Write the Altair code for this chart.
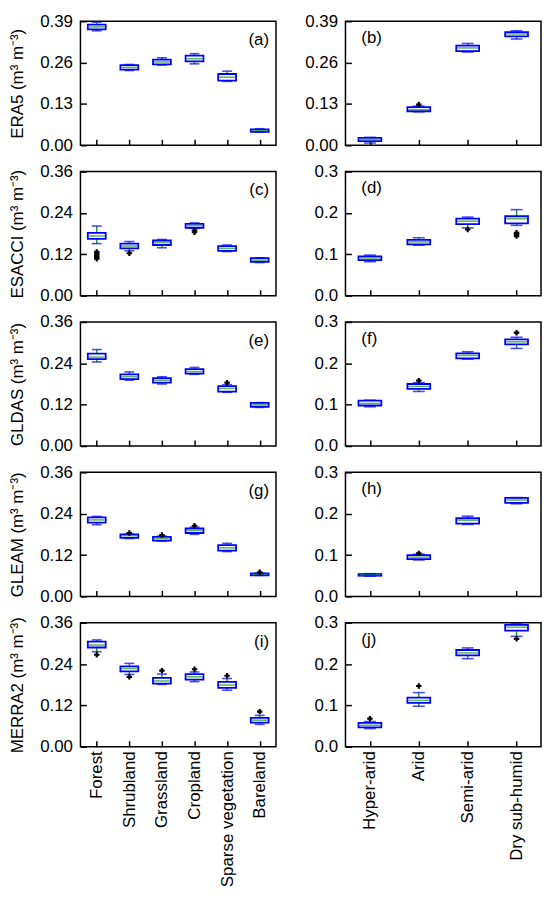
import altair as alt
import pandas as pd

landcover = ["Forest", "Shrubland", "Grassland", "Cropland", "Sparse vegetation", "Bareland"]
aridity = ["Hyper-arid", "Arid", "Semi-arid", "Dry sub-humid"]
products = ["ERA5", "ESACCI", "GLDAS", "GLEAM", "MERRA2"]

# (lower whisker, Q1, median, Q3, upper whisker) for each class
era5_lc = [(0.360, 0.364, 0.372, 0.379, 0.387), (0.235, 0.238, 0.245, 0.252, 0.254),
           (0.252, 0.254, 0.262, 0.269, 0.275), (0.256, 0.264, 0.272, 0.282, 0.288),
           (0.201, 0.203, 0.214, 0.224, 0.233), (0.041, 0.042, 0.046, 0.050, 0.052)]
era5_lc_out = [[], [], [], [], [], []]
era5_ar = [(0.007, 0.013, 0.018, 0.023, 0.025), (0.105, 0.107, 0.112, 0.120, 0.123),
           (0.293, 0.296, 0.306, 0.313, 0.320), (0.334, 0.342, 0.350, 0.356, 0.360)]
era5_ar_out = [[], [0.128], [], []]

esacci_lc = [(0.151, 0.165, 0.173, 0.182, 0.202), (0.130, 0.137, 0.144, 0.151, 0.157),
             (0.139, 0.147, 0.154, 0.160, 0.163), (0.195, 0.197, 0.204, 0.208, 0.211),
             (0.128, 0.130, 0.137, 0.144, 0.147), (0.096, 0.098, 0.103, 0.109, 0.110)]
esacci_lc_out = [[0.127, 0.122, 0.117, 0.112, 0.107], [0.123], [], [0.189, 0.184], [], []]
esacci_ar = [(0.082, 0.086, 0.091, 0.095, 0.098), (0.122, 0.124, 0.130, 0.135, 0.140),
             (0.164, 0.173, 0.180, 0.186, 0.190), (0.170, 0.175, 0.186, 0.192, 0.208)]
esacci_ar_out = [[], [], [0.160], [0.152, 0.148, 0.144]]

gldas_lc = [(0.244, 0.252, 0.258, 0.268, 0.280), (0.191, 0.194, 0.201, 0.208, 0.215),
            (0.180, 0.184, 0.191, 0.197, 0.201), (0.208, 0.210, 0.216, 0.223, 0.228),
            (0.156, 0.158, 0.167, 0.174, 0.178), (0.112, 0.114, 0.120, 0.125, 0.126)]
gldas_lc_out = [[], [], [], [], [0.184], []]
gldas_ar = [(0.095, 0.098, 0.103, 0.110, 0.111), (0.132, 0.138, 0.144, 0.150, 0.153),
            (0.210, 0.212, 0.219, 0.224, 0.228), (0.236, 0.246, 0.252, 0.258, 0.263)]
gldas_ar_out = [[], [0.158], [], [0.274]]

gleam_lc = [(0.208, 0.214, 0.222, 0.229, 0.232), (0.168, 0.170, 0.176, 0.180, 0.181),
            (0.160, 0.162, 0.168, 0.173, 0.175), (0.180, 0.184, 0.191, 0.197, 0.201),
            (0.130, 0.133, 0.141, 0.149, 0.154), (0.061, 0.061, 0.064, 0.067, 0.068)]
gleam_lc_out = [[], [0.184], [0.178], [0.205], [], [0.070]]
gleam_ar = [(0.049, 0.050, 0.052, 0.054, 0.055), (0.088, 0.090, 0.095, 0.100, 0.102),
            (0.174, 0.176, 0.184, 0.189, 0.194), (0.224, 0.226, 0.233, 0.238, 0.239)]
gleam_ar_out = [[], [0.104], [], []]

merra2_lc = [(0.276, 0.288, 0.295, 0.305, 0.310), (0.210, 0.219, 0.227, 0.233, 0.242),
             (0.181, 0.183, 0.191, 0.200, 0.211), (0.189, 0.195, 0.203, 0.211, 0.217),
             (0.164, 0.171, 0.179, 0.188, 0.198), (0.065, 0.070, 0.077, 0.084, 0.091)]
merra2_lc_out = [[0.267], [0.203], [0.221], [0.225], [0.206], [0.102]]
merra2_ar = [(0.044, 0.047, 0.052, 0.058, 0.061), (0.098, 0.106, 0.112, 0.119, 0.131),
             (0.213, 0.221, 0.227, 0.234, 0.239), (0.267, 0.281, 0.289, 0.295, 0.298)]
merra2_ar_out = [[0.068], [0.147], [], [0.261]]

lc_stats = [era5_lc, esacci_lc, gldas_lc, gleam_lc, merra2_lc]
lc_outs = [era5_lc_out, esacci_lc_out, gldas_lc_out, gleam_lc_out, merra2_lc_out]
ar_stats = [era5_ar, esacci_ar, gldas_ar, gleam_ar, merra2_ar]
ar_outs = [era5_ar_out, esacci_ar_out, gldas_ar_out, gleam_ar_out, merra2_ar_out]

lc_domains = [[0, 0.39], [0, 0.36], [0, 0.36], [0, 0.36], [0, 0.36]]
lc_ticks = [[0, 0.13, 0.26, 0.39], [0, 0.12, 0.24, 0.36], [0, 0.12, 0.24, 0.36],
            [0, 0.12, 0.24, 0.36], [0, 0.12, 0.24, 0.36]]
ar_domains = [[0, 0.39], [0, 0.3], [0, 0.3], [0, 0.3], [0, 0.3]]
ar_ticks = [[0, 0.13, 0.26, 0.39], [0, 0.1, 0.2, 0.3], [0, 0.1, 0.2, 0.3],
            [0, 0.1, 0.2, 0.3], [0, 0.1, 0.2, 0.3]]
ar_formats = [".2f", ".1f", ".1f", ".1f", ".1f"]
letters_left = ["(a)", "(c)", "(e)", "(g)", "(i)"]
letters_right = ["(b)", "(d)", "(f)", "(h)", "(j)"]

FONT = "Liberation Sans"
BLUE = "#0000ff"
GREEN = "#1a9a1a"
W, H = 197, 125


def panel(stats, outs, cats, domain, ticks, fmt, title, letter, left, show_x, box_w, cap_w):
    df = pd.DataFrame(stats, columns=["lo", "q1", "med", "q3", "hi"])
    df["cat"] = cats
    rows = [{"cat": c, "v": v} for c, vals in zip(cats, outs) for v in vals]
    odf = pd.DataFrame(rows, columns=["cat", "v"])

    xaxis = alt.Axis(title=None, labels=show_x, labelAngle=-90, labelPadding=4,
                     offset=-6, tickSize=6, domain=False, labelFontSize=17)
    xenc = alt.X("cat:N", sort=cats, scale=alt.Scale(type="point", padding=0.5), axis=xaxis)
    yscale = alt.Scale(domain=domain, nice=False, zero=False)
    yaxis = alt.Axis(values=ticks, format=fmt, title=title, offset=-6, tickSize=6,
                     domain=False, labelPadding=8, titlePadding=13)

    base = alt.Chart(df)
    whisk = base.mark_rule(color=GREEN, strokeWidth=1.4).encode(
        x=xenc, y=alt.Y("lo:Q", scale=yscale, axis=yaxis), y2="hi:Q")
    box = base.mark_bar(size=box_w, fill="white", stroke=BLUE, strokeWidth=1.8).encode(
        x=xenc, y=alt.Y("q1:Q", scale=yscale), y2="q3:Q")
    med = base.mark_tick(color=GREEN, size=box_w - 2, thickness=1.6).encode(
        x=xenc, y=alt.Y("med:Q", scale=yscale))
    caplo = base.mark_tick(color=BLUE, size=cap_w, thickness=1.6).encode(
        x=xenc, y=alt.Y("lo:Q", scale=yscale))
    caphi = base.mark_tick(color=BLUE, size=cap_w, thickness=1.6).encode(
        x=xenc, y=alt.Y("hi:Q", scale=yscale))
    layers = [whisk, box, med, caplo, caphi]
    if len(odf):
        pts = alt.Chart(odf).mark_point(shape="cross", filled=True, color="black",
                                        size=30, opacity=1).encode(
            x=xenc, y=alt.Y("v:Q", scale=yscale))
        layers.append(pts)
    ldf = pd.DataFrame({"t": [letter]})
    if left:
        lbl = alt.Chart(ldf).mark_text(align="right", baseline="top", font=FONT,
                                       fontSize=17, color="black").encode(
            x=alt.value(W - 7), y=alt.value(11), text="t:N")
    else:
        lbl = alt.Chart(ldf).mark_text(align="left", baseline="top", font=FONT,
                                       fontSize=17, color="black").encode(
            x=alt.value(16), y=alt.value(9), text="t:N")
    layers.append(lbl)
    return alt.layer(*layers).properties(width=W, height=H)


lefts = []
rights = []
for i, p in enumerate(products):
    last = i == len(products) - 1
    lefts.append(panel(lc_stats[i], lc_outs[i], landcover, lc_domains[i], lc_ticks[i], ".2f",
                       f"{p} (m³ m⁻³)", letters_left[i], True, last, 18, 10))
    rights.append(panel(ar_stats[i], ar_outs[i], aridity, ar_domains[i], ar_ticks[i], ar_formats[i],
                        None, letters_right[i], False, last, 23, 12))

left_col = alt.vconcat(*lefts, spacing=26.5, bounds="flush")
right_col = alt.vconcat(*rights, spacing=26.5, bounds="flush")

chart = alt.hconcat(left_col, right_col, spacing=27).properties(
    padding={"left": 0, "top": 0, "right": 0, "bottom": 0}
).configure_view(
    stroke="black", strokeWidth=1.5
).configure_axis(
    labelFont=FONT, titleFont=FONT, labelFontSize=17, titleFontSize=17,
    labelColor="black", titleColor="black", tickColor="black", tickWidth=1.5,
    grid=False, titleFontWeight="normal"
)

chart.save("out.html", embed_options={"renderer": "svg", "actions": False})
